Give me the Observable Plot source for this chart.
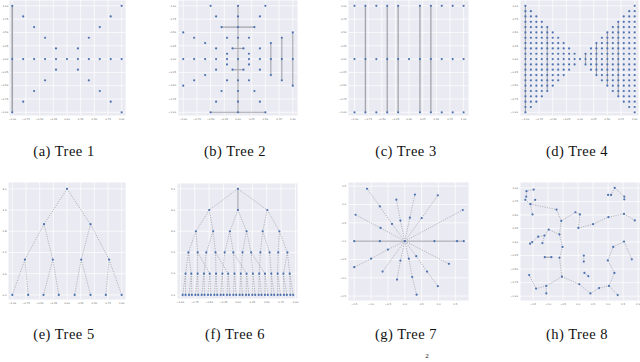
<!DOCTYPE html>
<html><head><meta charset="utf-8">
<script src="https://cdn.jsdelivr.net/npm/d3@7"></script>
<script src="https://cdn.jsdelivr.net/npm/@observablehq/plot@0.6"></script>
<style>
html,body{margin:0;padding:0;background:#fff;overflow:hidden;width:640px;height:362px;}
#root{position:relative;width:640px;height:362px;overflow:hidden;}
.cap{position:absolute;font-family:"Liberation Serif","DejaVu Serif",serif;font-size:14.5px;line-height:14.5px;letter-spacing:0.5px;white-space:nowrap;transform:translateX(-50%);color:#111;}
</style></head><body><div id="root"></div>
<script>
// ---------- tick labels ----------
const ticksUnit = [-1, -0.75, -0.5, -0.25, 0, 0.25, 0.5, 0.75, 1];
const ticksTree5Y = [0, 0.6, 1.2, 1.8, 2.4, 3.0];
const ticksTree6Y = [0, 1, 2, 3, 4, 5];
const ticksTree7 = [-1.5, -1, -0.5, 0, 0.5, 1, 1.5];
const ticksTree8X = [-1.5, -1, -0.5, 0, 0.5, 1, 1.5, 2];
const captions = ["(a) Tree 1", "(b) Tree 2", "(c) Tree 3", "(d) Tree 4", "(e) Tree 5", "(f) Tree 6", "(g) Tree 7", "(h) Tree 8"];

// ---------- Tree 1 ----------
const tree1X = [-1, 1, -0.8, 0.8, -0.6, 0.6, -0.4, 0.4, -0.2, 0.2, -1, -0.8, -0.6, -0.4, -0.2, 0, 0.2, 0.4, 0.6, 0.8, 1, -0.2, 0.2, -0.4, 0.4, -0.6, 0.6, -0.8, 0.8, -1, 1];
const tree1Y = [1, 1, 0.8, 0.8, 0.6, 0.6, 0.4, 0.4, 0.2, 0.2, 0, 0, 0, 0, 0, 0, 0, 0, 0, 0, 0, -0.2, -0.2, -0.4, -0.4, -0.6, -0.6, -0.8, -0.8, -1, -1];
const tree1Edges = [[-1, 1, -1, -1]];

// ---------- Tree 2 ----------
const tree2X = [-0.5, 0, 0.5, -0.4, 0, 0.4, -0.3, 0, 0.3, -1, 1, -0.8, -0.2, 0, 0.2, 0.8, -0.6, 0.6, -0.4, -0.1, 0.1, 0.4, -0.2, 0.2,
  -1, -0.8, -0.6, -0.4, -0.2, 0, 0.2, 0.4, 0.6, 0.8, 1,
  -0.2, 0.2, -0.4, -0.1, 0.1, 0.4, -0.6, 0.6, -0.8, -0.2, 0, 0.2, 0.8, -1, 1, -0.3, 0, 0.3, -0.4, 0, 0.4, -0.5, 0, 0.5];
const tree2Y = [1, 1, 1, 0.8, 0.8, 0.8, 0.6, 0.6, 0.6, 0.5, 0.5, 0.4, 0.4, 0.4, 0.4, 0.4, 0.3, 0.3, 0.2, 0.2, 0.2, 0.2, 0.1, 0.1,
  0, 0, 0, 0, 0, 0, 0, 0, 0, 0, 0,
  -0.1, -0.1, -0.2, -0.2, -0.2, -0.2, -0.3, -0.3, -0.4, -0.4, -0.4, -0.4, -0.4, -0.5, -0.5, -0.6, -0.6, -0.6, -0.8, -0.8, -0.8, -1, -1, -1];
const tree2Edges = [[0, 1, 0, -1], [-0.3, 0.6, 0.3, 0.6], [-0.5, -1, 0.5, -1], [-0.1, 0.2, 0.1, 0.2], [-0.1, -0.2, 0.1, -0.2],
  [0.6, 0.3, 0.6, -0.3], [0.8, 0.4, 0.8, -0.4], [1, 0.5, 1, -0.5]];

// ---------- Tree 3 ----------
const tree3Outer = [-1, -0.8, -0.6, -0.4, -0.2, 0.2, 0.4, 0.6, 0.8, 1];
const tree3Middle = [-1, -0.8, -0.6, -0.4, -0.2, 0, 0.2, 0.4, 0.6, 0.8, 1];
const tree3Edges = [[-0.8, 1, -0.8, -1], [-0.4, 1, -0.4, -1], [-0.2, 1, -0.2, -1], [0.2, 1, 0.2, -1], [0.4, 1, 0.4, -1]];

// ---------- Tree 4 ----------
const tree4Cols = [-1, -0.9, -0.8, -0.7, -0.6, -0.5, -0.4, -0.3, -0.2, -0.1, 0, 0.1, 0.2, 0.3, 0.4, 0.5, 0.6, 0.7, 0.8, 0.9, 1];
const tree4Count = [21, 19, 17, 15, 13, 11, 9, 7, 5, 3, 1, 3, 5, 7, 9, 11, 13, 15, 17, 19, 21];
const tree4Edges = [[-1, 1, -1, -1], [-0.6, 0.6, -0.6, -0.6], [0.1, 0.1, 0.1, -0.1], [0.3, 0.3, 0.3, -0.3], [0.5, 0.5, 0.5, -0.5], [0.7, 0.7, 0.7, -0.7]];

// ---------- Tree 5 ----------
const tree5X = [0, -0.42, 0.43, -0.77, -0.26, 0.26, 0.77, -1, -0.71, -0.43, -0.15, 0.14, 0.43, 0.71, 1];
const tree5Y = [3, 2, 2, 1, 1, 1, 1, 0, 0, 0, 0, 0, 0, 0, 0];
const tree5Parent = [-1, 0, 0, 1, 1, 2, 2, 3, 3, 4, 4, 5, 5, 6, 6];

// ---------- Tree 6 ----------
const tree6X = [0,
  -0.50, 0, 0.51,
  -0.73, -0.43, -0.14, 0.15, 0.43, 0.72,
  -0.86, -0.70, -0.55, -0.39, -0.23, -0.08, 0.08, 0.23, 0.39, 0.55, 0.70, 0.86,
  -0.91, -0.81, -0.70, -0.59, -0.49, -0.38, -0.27, -0.17, -0.06, 0.05, 0.15, 0.26, 0.37, 0.47, 0.58, 0.69, 0.79, 0.90,
  -0.96, -0.91, -0.85, -0.80, -0.74, -0.69, -0.63, -0.58, -0.52, -0.47, -0.41, -0.36, -0.30, -0.25, -0.19, -0.14, -0.08, -0.03,
  0.03, 0.08, 0.14, 0.19, 0.25, 0.30, 0.36, 0.41, 0.47, 0.52, 0.58, 0.63, 0.69, 0.74, 0.80, 0.85, 0.91, 0.96];
const tree6LevelSizes = [1, 3, 6, 12, 18, 36];
const tree6Parent = [-1,
  0, 0, 0,
  1, 1, 2, 2, 3, 3,
  4, 4, 5, 5, 6, 6, 7, 7, 8, 8, 9, 9,
  10, 10, 11, 12, 11, 13, 14, 13, 15, 16, 15, 17, 18, 17, 19, 20, 21, 21,
  22, 22, 23, 23, 24, 24, 25, 25, 26, 26, 27, 27, 28, 28, 29, 29, 30, 30, 31, 31, 32, 32, 33, 33, 34, 34, 35, 35, 36, 36, 37, 37, 38, 38, 39, 39];

// ---------- Tree 7 ----------
const tree7X = [0, -0.74, -1.50, 0.88, 1.55, 1.75, -0.38, -0.74, -1.12, -0.13, -0.25, 0.15, 0.30, 0.50, 0.98, 1.72, -0.72, -1.46,
  -0.50, -1.0, -1.50, -0.66, -0.13, -0.23, 0.12, 0.22, 0.35, 0.34, 0.66, 0.98, 1.31];
const tree7Y = [0, 0, 0, 0, 0, 0, 0.47, 0.95, 1.43, 0.56, 1.13, 0.64, 1.27, 0.63, 1.25, 0.85, 0.36, 0.72,
  -0.23, -0.48, -0.71, -0.83, -0.53, -1.05, -0.48, -0.98, -1.46, -0.41, -0.83, -1.23, -0.62];
const tree7Parent = [-1, 0, 1, 0, 3, 4, 0, 6, 7, 0, 9, 0, 11, 0, 13, 0, 0, 16, 0, 18, 19, 0, 0, 22, 0, 24, 25, 0, 27, 28, 0];

// ---------- Tree 8 ----------
const tree8X = [-1.72, -1.48, -1.73, -1.76, -1.43, -1.59, -1.52, -0.72, -0.56, -0.09, 0.06, 0.01, 0.50, 1.01, 1.53, 1.89, 1.22, 1.00, 1.10, 1.54, 1.54,
  -0.98, -0.62, -1.12, -1.33, -1.19, -1.53, -1.60, -0.52, -1.11, -0.62, 0.19, 0.19, 1.53, 1.17, 1.79, 0.99, 1.21,
  -1.63, -1.40, -1.06, -1.06, -0.54, 0.04, 0.21, 0.34, 0.41, 0.70, 1.03, 1.32, -0.89];
const tree8Y = [0.94, 0.97, 0.84, 0.78, 0.78, 0.70, 0.51, 0.60, 0.39, 0.55, 0.51, 0.26, 0.33, 0.46, 0.52, 0.40, 1.00, 0.87, 0.87, 0.84, 0.79,
  0.23, 0.14, 0.12, 0.10, -0.02, 0.00, -0.03, -0.09, -0.28, -0.29, -0.25, -0.36, 0.01, -0.09, -0.32, -0.34, -0.57,
  -0.61, -0.86, -0.81, -0.95, -0.64, -0.78, -0.57, -0.63, -0.95, -0.85, -0.81, -0.98, -0.28];
const tree8Links = [[1, 0], [0, 2], [2, 3], [3, 5], [4, 5], [5, 6], [5, 7], [7, 8], [8, 9], [9, 10], [10, 11], [11, 12], [12, 13], [13, 14], [14, 15],
  [16, 18], [18, 17], [16, 19], [19, 20], [8, 22], [22, 21], [21, 23], [23, 25], [23, 24], [24, 26], [26, 27], [22, 28], [28, 30], [30, 42],
  [31, 32], [42, 43], [43, 46], [46, 47], [47, 48], [48, 49], [48, 37], [37, 36], [36, 34], [34, 33], [33, 35], [42, 40], [40, 39], [39, 38], [40, 41], [44, 45]];
const tree8Solid = [[29, 50]];

// ---------- build tables ----------
const pts = (X, Y) => X.map((x, i) => ({x, y: Y[i]}));
const segs = (list, dash) => list.map(([x1, y1, x2, y2]) => ({x1, y1, x2, y2, dash}));
const treeEdges = (X, Y, parent, solid) => parent.flatMap((p, i) => p < 0 ? [] :
  [{x1: X[p], y1: Y[p], x2: X[i], y2: Y[i], dash: !solid.includes(i)}]);

const t3pts = [...tree3Outer.map(x => ({x, y: 1})), ...tree3Middle.map(x => ({x, y: 0})), ...tree3Outer.map(x => ({x, y: -1}))];
const t4pts = tree4Cols.flatMap((x, i) => d3.range(tree4Count[i]).map(k => ({x, y: +(((tree4Count[i] - 1) / 2 - k) * 0.1).toFixed(2)})));
const tree6Y = tree6LevelSizes.flatMap((n, lvl) => Array(n).fill(5 - lvl));

const f2 = d3.format(".2f"), f1 = d3.format(".1f");

const panels = [
  {frame: [9, 0, 125, 115], xd: [-1.05, 1.07], yd: [-1.06, 1.1], xt: ticksUnit, yt: ticksUnit, xf: f2, yf: f2, yPad: 1.2,
   points: pts(tree1X, tree1Y), edges: segs(tree1Edges, false), solidW: 1.6},
  {frame: [178, 0, 297, 115], xd: [-1.086, 1.086], yd: [-1.06, 1.1], xt: ticksUnit, yt: ticksUnit, xf: f2, yf: f2, yPad: 2.5,
   points: pts(tree2X, tree2Y), edges: segs(tree2Edges, false), solidW: 1.1},
  {frame: [348, 0, 468, 115], xd: [-1.11, 1.09], yd: [-1.06, 1.1], xt: ticksUnit, yt: ticksUnit, xf: f2, yf: f2, yPad: 2,
   points: t3pts, edges: segs(tree3Edges, false), solidW: 1.3},
  {frame: [520, 0, 638, 115], xd: [-1.09, 1.07], yd: [-1.06, 1.1], xt: ticksUnit, yt: ticksUnit, xf: f2, yf: f2, yPad: 2.5,
   points: t4pts, edges: segs(tree4Edges, false), solidW: 1.1},
  {frame: [8, 182, 125, 299], xd: [-1.07, 1.07], yd: [-0.13, 3.18], xt: ticksUnit, yt: ticksTree5Y, xf: f2, yf: f1, yPad: 2,
   points: pts(tree5X, tree5Y), edges: treeEdges(tree5X, tree5Y, tree5Parent, []), solidW: 1},
  {frame: [177, 183, 297, 298], xd: [-1.05, 1.035], yd: [-0.17, 5.25], xt: ticksUnit, yt: ticksTree6Y, xf: f2, yf: f1, yPad: 2.5,
   points: pts(tree6X, tree6Y), edges: treeEdges(tree6X, tree6Y, tree6Parent, [2]), solidW: 1.1},
  {frame: [348, 182, 468, 300], xd: [-1.67, 1.89], yd: [-1.62, 1.6], xt: ticksTree7, yt: ticksTree7, xf: f1, yf: f1, yPad: 2.5,
   points: pts(tree7X, tree7Y), edges: treeEdges(tree7X, tree7Y, tree7Parent, [1, 2, 3, 4, 5]), solidW: 1.1},
  {frame: [520, 182, 640, 300], xd: [-1.92, 2.08], yd: [-1.08, 1.1], xt: ticksTree8X, yt: ticksUnit, xf: f1, yf: f2, yPad: 2.5,
   points: pts(tree8X, tree8Y),
   edges: [...tree8Links.map(([a, b]) => ({x1: tree8X[a], y1: tree8Y[a], x2: tree8X[b], y2: tree8Y[b], dash: true})),
           ...tree8Solid.map(([a, b]) => ({x1: tree8X[a], y1: tree8Y[a], x2: tree8X[b], y2: tree8Y[b], dash: false}))], solidW: 1.1}
];

const root = document.getElementById("root");
const mL = 16, mR = 3, mT = 3, mB = 10;
const capX = [64, 235, 406, 577];

panels.forEach((p, i) => {
  const [l, t, r, b] = p.frame;
  const svg = Plot.plot({
    width: (r - l) + mL + mR, height: (b - t) + mT + mB,
    marginLeft: mL, marginRight: mR, marginTop: mT, marginBottom: mB,
    style: {fontSize: "2.5px", fontFamily: "DejaVu Sans, sans-serif", color: "#555", background: "transparent", overflow: "visible"},
    x: {domain: p.xd, ticks: p.xt, tickFormat: p.xf, tickSize: 0, tickPadding: 2.5, label: null},
    y: {domain: p.yd, ticks: p.yt, tickFormat: p.yf, tickSize: 0, tickPadding: p.yPad, label: null},
    marks: [
      Plot.frame({fill: "#eaeaf2", stroke: null}),
      Plot.ruleX(p.xt, {stroke: "white", strokeWidth: 0.7}),
      Plot.ruleY(p.yt, {stroke: "white", strokeWidth: 0.7}),
      Plot.link(p.edges.filter(e => !e.dash), {x1: "x1", y1: "y1", x2: "x2", y2: "y2", stroke: "#a4a4ad", strokeWidth: p.solidW}),
      Plot.link(p.edges.filter(e => e.dash), {x1: "x1", y1: "y1", x2: "x2", y2: "y2", stroke: "#8e8e98", strokeWidth: 0.6, strokeDasharray: "1.2,1.2"}),
      Plot.dot(p.points, {x: "x", y: "y", r: 1.1, fill: "#4c72b0", stroke: "none"})
    ]
  });
  svg.style.position = "absolute";
  svg.style.left = (l - mL) + "px";
  svg.style.top = (t - mT) + "px";
  svg.style.maxWidth = "none";
  root.appendChild(svg);

  const cap = document.createElement("div");
  cap.className = "cap";
  cap.textContent = captions[i];
  cap.style.left = capX[i % 4] + "px";
  cap.style.top = (i < 4 ? 143.9 : 326.9) + "px";
  root.appendChild(cap);
});

const sup = document.createElement("div");
sup.className = "cap";
sup.style.fontSize = "7px";
sup.style.lineHeight = "7px";
sup.style.letterSpacing = "0";
sup.style.left = "427px";
sup.style.top = "353px";
sup.textContent = "2";
root.appendChild(sup);
</script></body></html>
